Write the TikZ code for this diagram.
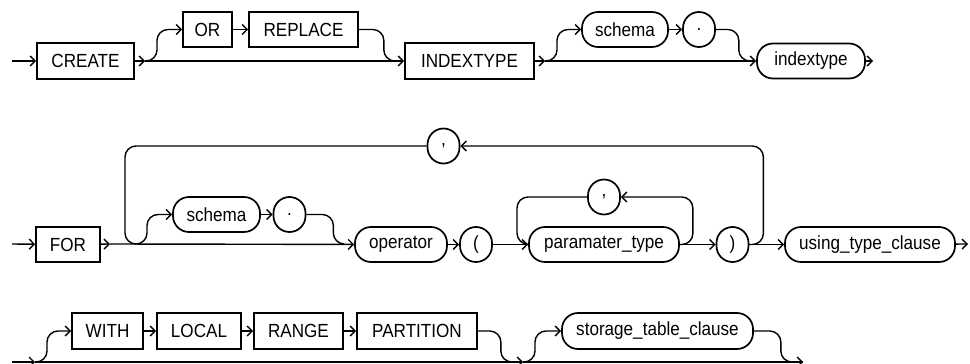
\documentclass[tikz,border=0pt]{standalone}
\usepackage{fontspec}
\setmainfont{Liberation Sans}[FakeStretch=0.9]
\usepackage{tikz}
\usetikzlibrary{arrows.meta,positioning}
\tikzset{
  kw/.style={draw, line width=1.7pt, minimum height=36, inner sep=0pt,
             font=\fontsize{19}{22}\selectfont},
  nt/.style={kw, rounded corners=16pt, minimum height=35},
  pt/.style={nt, minimum width=32},
  rail/.style={line width=1.4pt, rounded corners=11pt},
  arr/.style={rail, -{Straight Barb[length=5pt,width=10pt]}}
}

\begin{document}
\begin{tikzpicture}[x=1pt, y=-1pt]
  \useasboundingbox (0,0) rectangle (970,364);

  % CREATE [OR REPLACE] INDEXTYPE [schema .] indextype
  \node[kw, minimum width=97] (create) at (85.5,61) {CREATE};
  \node[kw, minimum width=49, minimum height=35] (orkw) at (207.5,29.5) {OR};
  \node[kw, minimum width=109, minimum height=35] (replace) at (303.5,29.5) {REPLACE};
  \node[kw, minimum width=129] (idxkw) at (469.5,61) {INDEXTYPE};
  \node[nt, minimum width=86] (schemaA) at (625,29.5) {schema};
  \node[pt] (dotA) at (699,29.5) {.};
  \node[nt, minimum width=108] (idxname) at (811,61) {indextype};
  \coordinate (in1) at (12,61);
  \coordinate (j1) at (145,61);
  \coordinate (k1) at (395,61);
  \coordinate (j2) at (545,61);
  \coordinate (k2) at (750,61);
  \coordinate (out1) at (873,61);

  \draw[arr] (in1) -- (create);
  \draw[arr] (create) -- (j1);
  \draw[arr] (j1) -- (idxkw);
  \draw[arr] (j1) -- ++(12,0) |- (orkw);
  \draw[arr] (orkw) -- (replace);
  \draw[rail] (replace.east) -- ++(25,0) |- (k1);
  \draw[arr] (idxkw) -- (j2);
  \draw[arr] (j2) -- (idxname);
  \draw[arr] (j2) -- ++(12,0) |- (schemaA);
  \draw[arr] (schemaA) -- (dotA);
  \draw[rail] (dotA.east) -- ++(23,0) |- (k2);
  \draw[arr] (idxname) -- (out1);

  % FOR [schema .] operator ( paramater_type, ... ) , ... using_type_clause
  \node[kw, minimum width=64, minimum height=35] (forkw) at (68,244.5) {FOR};
  \node[pt] (cmA) at (443.5,146) {,};
  \node[nt, minimum width=87] (schemaB) at (216.5,214.5) {schema};
  \node[pt] (dotB) at (289.5,214.5) {.};
  \node[nt, minimum width=92] (operator) at (401,244.5) {operator};
  \node[pt] (lparen) at (476,244.5) {(};
  \node[pt] (cmB) at (604,197) {,};
  \node[nt, minimum width=150] (ptype) at (604,244.5) {paramater\_type};
  \node[pt] (rparen) at (732.5,244.5) {)};
  \node[nt, minimum width=170] (usingtc) at (870,244.5) {using\_type\_clause};
  \coordinate (in2) at (12,244);
  \coordinate (j3) at (110,244);
  \coordinate (lp1) at (125,244);
  \coordinate (j4) at (135,244);
  \coordinate (k4) at (344,244);
  \coordinate (lp2) at (517,244);
  \coordinate (out2) at (968,244);

  \draw[arr] (in2) -- (forkw);
  \draw[arr] (forkw) -- (j3);
  \draw[arr] (j3) -- (operator);
  \draw[rail] (cmA.west) -| (lp1) -- (j4);
  \draw[arr] (j4) -- ++(12,0) |- (schemaB);
  \draw[arr] (schemaB) -- (dotB);
  \draw[rail] (dotB.east) -- ++(27,0) |- (k4);
  \draw[arr] (operator) -- (lparen);
  \draw[arr] (lparen) -- (ptype);
  \draw[arr] (ptype.east) -- ++(13,0) |- (cmB);
  \draw[rail] (cmB.west) -| (lp2) -- (ptype.west);
  \draw[arr] (ptype) -- (rparen);
  \draw[arr] (rparen.east) -- ++(14,0) |- (cmA);
  \draw[arr] (rparen) -- (usingtc);
  \draw[arr] (usingtc) -- (out2);

  % [WITH LOCAL RANGE PARTITION] [storage_table_clause]
  \node[kw, minimum width=71] (withkw) at (107.5,331) {WITH};
  \node[kw, minimum width=84] (localkw) at (199,331) {LOCAL};
  \node[kw, minimum width=89] (rangekw) at (298.5,331) {RANGE};
  \node[kw, minimum width=120] (partkw) at (417,331) {PARTITION};
  \node[nt, minimum width=191, minimum height=36] (storage) at (657.5,331) {storage\_table\_clause};
  \coordinate (in3) at (12,362);
  \coordinate (j5) at (35,362);
  \coordinate (k6) at (513,362);
  \coordinate (j6) at (523,362);
  \coordinate (out3) at (803,362);

  \draw[arr] (in3) -- (j5);
  \draw[arr] (j5) -- (j6);
  \draw[arr] (j6) -- (out3);
  \draw[arr] (j5) -- ++(12,0) |- (withkw);
  \draw[arr] (withkw) -- (localkw);
  \draw[arr] (localkw) -- (rangekw);
  \draw[arr] (rangekw) -- (partkw);
  \draw[rail] (partkw.east) -- ++(23,0) |- (k6);
  \draw[arr] (j6) -- ++(12,0) |- (storage);
  \draw[rail] (storage.east) -- ++(27,0) |- (out3);
\end{tikzpicture}
\end{document}
